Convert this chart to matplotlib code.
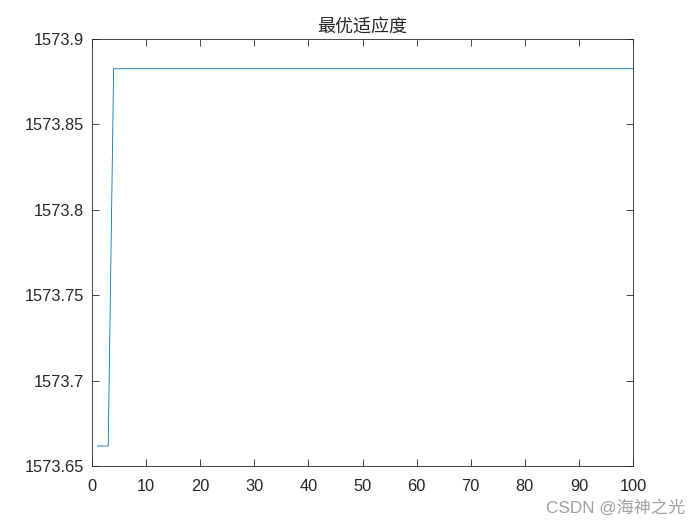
import numpy as np
import matplotlib
matplotlib.use('agg')
import matplotlib.pyplot as plt

plt.rcParams['font.family'] = ['Liberation Sans', 'Noto Sans CJK SC', 'DejaVu Sans']

# best fitness per generation
generations = np.arange(1, 101)
fitness = [1573.6617] * 3 + [1573.8826] * 97

title = '最优适应度'
x_ticks = list(range(0, 101, 10))
y_ticks = [1573.65, 1573.7, 1573.75, 1573.8, 1573.85, 1573.9]
y_ticklabels = ['1573.65', '1573.7', '1573.75', '1573.8', '1573.85', '1573.9']

fig = plt.figure(figsize=(7, 5.25), dpi=100)
ax = fig.add_axes([92 / 700, 59 / 525, 541 / 700, 427 / 525])
ax.plot(generations, fitness, color='#0072BD', linewidth=0.6)

ax.set_xlim(0, 100)
ax.set_ylim(1573.65, 1573.9)
ax.set_xticks(x_ticks)
ax.set_yticks(y_ticks)
ax.set_yticklabels(y_ticklabels)
ax.tick_params(direction='in', top=True, right=True, length=5, width=0.6,
               labelsize=11.8, color='#262626', labelcolor='#262626')
ax.tick_params(axis='x', pad=9.5)
ax.tick_params(axis='y', pad=6)
for sp in ax.spines.values():
    sp.set_linewidth(0.6)
    sp.set_color('#262626')

ax.set_title(title, fontsize=13, pad=5, color='#262626',
             family=['Noto Sans CJK SC', 'DejaVu Sans'])

fig.text(0.979, 0.034, 'CSDN @海神之光', ha='right', va='center',
         fontsize=12.3, color='#a0a0a0',
         family=['Liberation Sans', 'Noto Sans CJK SC', 'DejaVu Sans'])

fig.savefig('out.png', dpi=100)
